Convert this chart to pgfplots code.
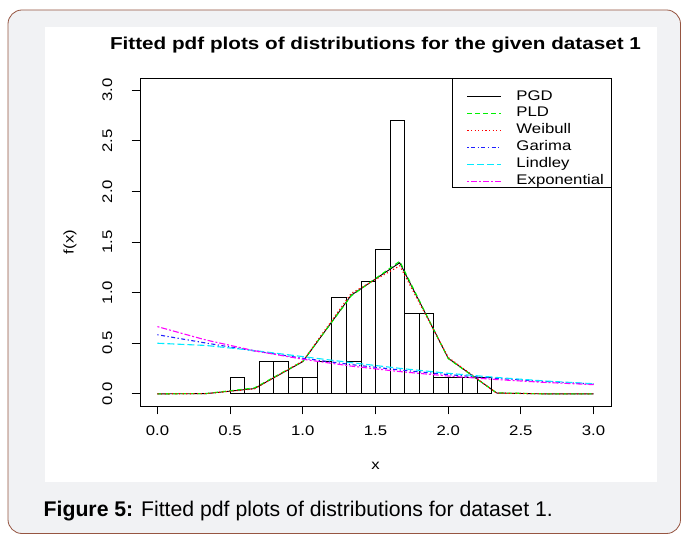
\documentclass[border=0pt]{standalone}
\usepackage{fontspec}
\setmainfont{Liberation Sans}[FakeStretch=1.2]
\newfontfamily\capfont{Liberation Sans}
\usepackage{pgfplots}
\pgfplotsset{compat=1.18}
\definecolor{framegray}{RGB}{241,242,244}
\definecolor{framebrown}{RGB}{150,85,65}
\definecolor{Rgreen}{RGB}{0,240,0}
\definecolor{Rred}{RGB}{255,0,0}
\definecolor{Rblue}{RGB}{30,30,255}
\definecolor{Rcyan}{RGB}{0,235,255}
\definecolor{Rmagenta}{RGB}{255,0,255}
\begin{document}
\begin{tikzpicture}
\path[use as bounding box] (0bp,0bp) rectangle (682bp,535bp);
\fill[white] (0bp,0bp) rectangle (682bp,535bp);
\draw[framebrown, line width=0.8bp, fill=framegray, rounded corners=14bp] (8bp,1.5bp) rectangle (680.5bp,525bp);
\fill[white] (45bp,53bp) rectangle (657bp,508bp);
\node[font=\bfseries\fontsize{17.3}{20}\selectfont] at (375.5bp,490bp) {Fitted pdf plots of distributions for the given dataset 1};
\node[anchor=west, inner sep=0pt, font=\capfont\fontsize{21.3}{25}\selectfont] at (43.5bp,24bp) {\textbf{Figure 5:} Fitted pdf plots of distributions for dataset 1.};
\begin{axis}[
  at={(140bp,129bp)}, anchor=south west, scale only axis,
  width=471bp, height=328bp,
  xmin=-0.12, xmax=3.12, ymin=-0.12, ymax=3.12,
  axis line style={line width=0.9bp},
  tick align=outside, tick pos=left, major tick length=8.3bp,
  every tick/.style={black, line width=0.9bp},
  xtick={0,0.5,1,1.5,2,2.5,3}, ytick={0,0.5,1,1.5,2,2.5,3},
  /pgf/number format/assume math mode=true,
  /pgf/number format/.cd, fixed, fixed zerofill, precision=1, /pgfplots/.cd,
  ticklabel style={font=\fontsize{14}{16}\selectfont},
  xticklabel style={anchor=north, inner sep=0pt, outer sep=0pt, outer ysep=11.5bp},
  yticklabel style={rotate=90, anchor=south, inner sep=0pt, outer sep=0pt, outer ysep=19.5bp},
  label style={font=\fontsize{14}{16}\selectfont},
  xlabel={x}, ylabel={f(x)},
  xlabel style={at={(axis description cs:0.5,-0.183)}, anchor=center},
  ylabel style={at={(axis description cs:-0.1486,0.5)}, anchor=center},
  legend style={at={(0.6936,0.9695)}, anchor=north west, draw=none, fill=none,
    inner sep=0pt, outer sep=0pt, row sep=0pt,
    font=\fontsize{14}{16}\selectfont,
    nodes={inner sep=0pt, text height=12bp, text depth=5bp},
    /tikz/every odd column/.append style={column sep=15bp}},
  legend cell align=left,
  legend image code/.code={\draw[#1, line width=1.5bp] (0bp,0bp) -- (33.3bp,0bp);},
]
\addplot[ybar interval, draw=black, fill=none, line width=0.9bp, forget plot] coordinates {
(0.5,0.159) (0.6,0) (0.7,0.317) (0.8,0.317) (0.9,0.159) (1.0,0.159) (1.1,0.317)
(1.2,0.952) (1.3,0.317) (1.4,1.111) (1.5,1.429) (1.6,2.698) (1.7,0.794) (1.8,0.794)
(1.9,0.159) (2.0,0.159) (2.1,0.159) (2.2,0.159) (2.3,0.159)};
\addplot[black, line width=0.9bp] coordinates {
(0,0) (0.3333,0.002) (0.6667,0.052) (1.0,0.318) (1.3333,0.975) (1.6667,1.295)
(2.0,0.352) (2.3333,0.008) (2.6667,0) (3.0,0)};
\addplot[Rgreen, line width=1.1bp, dash pattern=on 4.5bp off 3.5bp] coordinates {
(0,0) (0.3333,0.003) (0.6667,0.058) (1.0,0.322) (1.3333,0.968) (1.6667,1.310)
(2.0,0.348) (2.3333,0.010) (2.6667,0.0001) (3.0,0)};
\addplot[Rred, line width=1.1bp, dash pattern=on 1.2bp off 2.4bp] coordinates {
(0,0) (0.3333,0.002) (0.6667,0.049) (1.0,0.324) (1.3333,0.993) (1.6667,1.265)
(2.0,0.360) (2.3333,0.007) (2.6667,0) (3.0,0)};
\addplot[Rblue, line width=1.1bp, dash pattern=on 1.2bp off 2.5bp on 4bp off 2.5bp] coordinates {
(0,0.584) (0.3333,0.502) (0.6667,0.424) (1.0,0.352) (1.3333,0.289) (1.6667,0.236)
(2.0,0.190) (2.3333,0.153) (2.6667,0.122) (3.0,0.097)};
\addplot[Rcyan, line width=1.1bp, dash pattern=on 7bp off 3bp] coordinates {
(0,0.500) (0.3333,0.478) (0.6667,0.428) (1.0,0.368) (1.3333,0.308) (1.6667,0.252)
(2.0,0.203) (2.3333,0.162) (2.6667,0.127) (3.0,0.100)};
\addplot[Rmagenta, line width=1.1bp, dash pattern=on 2bp off 2bp on 6bp off 2bp] coordinates {
(0,0.664) (0.3333,0.532) (0.6667,0.426) (1.0,0.342) (1.3333,0.274) (1.6667,0.220)
(2.0,0.176) (2.3333,0.141) (2.6667,0.113) (3.0,0.091)};
\legend{PGD, PLD, Weibull, Garima, Lindley, Exponential}
\end{axis}
\draw[line width=0.9bp] (452bp,348bp) rectangle (611bp,457bp);
\end{tikzpicture}
\end{document}
